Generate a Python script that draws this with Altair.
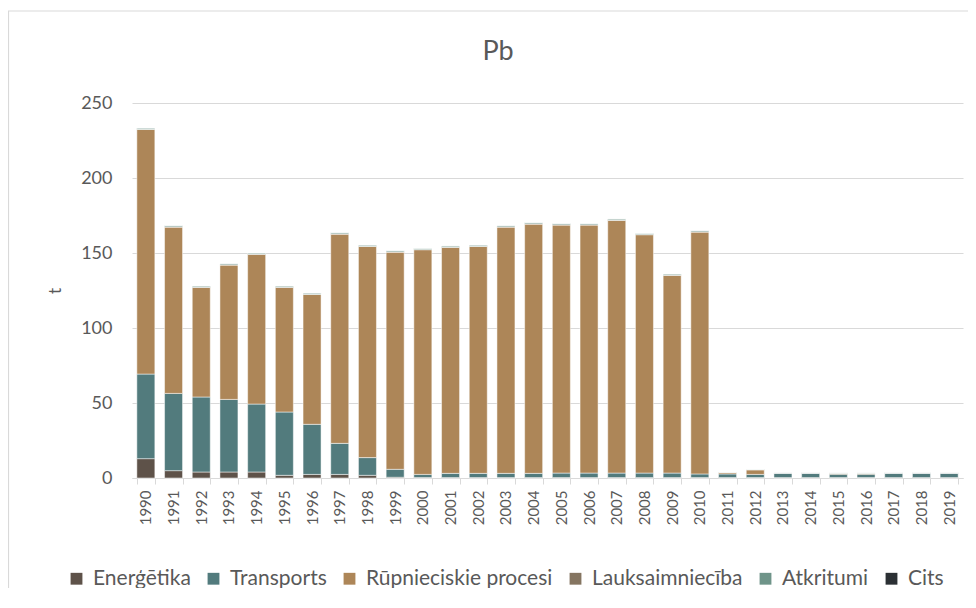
import altair as alt
import pandas as pd

years = [str(y) for y in range(1990, 2020)]

energetika = [12.9, 4.9, 4.0, 4.0, 4.0, 1.8, 2.4, 2.4, 1.8, 0.5,
              0.3, 0.3, 0.3, 0.3, 0.3, 0.3, 0.3, 0.3, 0.3, 0.3,
              0.3, 0.3, 0.3, 0.3, 0.3, 0.3, 0.3, 0.3, 0.3, 0.3]
transports = [56.4, 51.5, 50.0, 48.4, 45.3, 42.2, 33.4, 20.7, 11.8, 5.3,
              2.1, 2.8, 2.8, 2.8, 2.8, 3.0, 3.0, 3.0, 3.0, 3.0,
              2.4, 2.4, 2.1, 3.0, 3.0, 2.2, 2.2, 3.0, 3.0, 3.0]
rupnieciskie = [163.1, 110.9, 73.1, 89.6, 99.8, 83.1, 86.6, 139.5, 140.8, 144.8,
                149.8, 150.7, 151.3, 164.2, 166.2, 165.4, 165.4, 168.5, 158.9, 131.8,
                161.3, 0.9, 3.1, 0.0, 0.0, 0.6, 0.6, 0.0, 0.0, 0.0]
lauksaimnieciba = [0.1] * 21 + [0.05] * 9
atkritumi = [0.8] * 21 + [0.25] * 9
cits = [0.0] * 30

series = ["Enerģētika", "Transports", "Rūpnieciskie procesi",
          "Lauksaimniecība", "Atkritumi", "Cits"]
colors = ["#5e5249", "#527b7d", "#ad8658", "#857561", "#6f9489", "#2b3034"]
values = [energetika, transports, rupnieciskie, lauksaimnieciba, atkritumi, cits]
chart_title = "Pb"

rows = []
for si, (name, vals) in enumerate(zip(series, values)):
    for y, v in zip(years, vals):
        rows.append({"year": y, "series": name, "value": v, "order": si})
df = pd.DataFrame(rows)

FONT = "Lato"
GRAY = "#595959"

bars = alt.Chart(df).mark_bar(
    stroke="white", strokeWidth=0.7, strokeOpacity=0.7
).encode(
    x=alt.X("year:N", sort=years,
            scale=alt.Scale(paddingInner=0.35, paddingOuter=0.175),
            axis=alt.Axis(title=None, labelAngle=-90, labelFontSize=15,
                          labelColor=GRAY, labelFont=FONT, labelPadding=6,
                          domainColor="#d9d9d9", tickColor="#d9d9d9",
                          tickBand="extent", tickSize=6, labelBaseline="middle")),
    y=alt.Y("value:Q", stack="zero",
            scale=alt.Scale(domain=[0, 250], nice=False),
            axis=alt.Axis(title="t", values=[0, 50, 100, 150, 200, 250],
                          labelFontSize=18, labelColor=GRAY, labelFont=FONT,
                          labelPadding=20, ticks=False, domain=False,
                          gridColor="#d9d9d9", gridWidth=1.2,
                          titleFont=FONT, titleFontSize=17, titleColor=GRAY,
                          titleFontWeight="normal", titleX=-68, titleAngle=-90)),
    color=alt.Color("series:N", sort=series,
                    scale=alt.Scale(domain=series, range=colors),
                    legend=alt.Legend(title=None, orient="none", direction="horizontal",
                                      legendX=-66, legendY=465,
                                      symbolType="square", symbolSize=140,
                                      symbolStrokeWidth=0, labelLimit=0,
                                      labelFont=FONT, labelFontSize=21,
                                      labelColor=GRAY, columnPadding=12,
                                      symbolOffset=0, labelOffset=6)),
    order=alt.Order("order:Q"),
    tooltip=["year", "series", "value"],
)

frame_df = pd.DataFrame({"k": [0]})
top_line = alt.Chart(frame_df).mark_rule(color="#d9d9d9", strokeWidth=1.2).encode(
    x=alt.value(-124), x2=alt.value(845), y=alt.value(-92))
left_line = alt.Chart(frame_df).mark_rule(color="#d9d9d9", strokeWidth=1.2).encode(
    x=alt.value(-123.5), y=alt.value(-92), y2=alt.value(520))
title_text = alt.Chart(pd.DataFrame({"t": [chart_title]})).mark_text(
    font=FONT, fontSize=27, color=GRAY, align="center", baseline="middle"
).encode(text="t:N", x=alt.value(366), y=alt.value(-51))

chart = alt.layer(top_line, left_line, title_text, bars).properties(
    width=831, height=375,
    autosize=alt.AutoSizeParams(type="none"),
    padding={"left": 124, "top": 95, "right": 5, "bottom": 110},
).configure_view(stroke=None)

chart.save("out.html", embed_options={"renderer": "svg", "actions": False})
